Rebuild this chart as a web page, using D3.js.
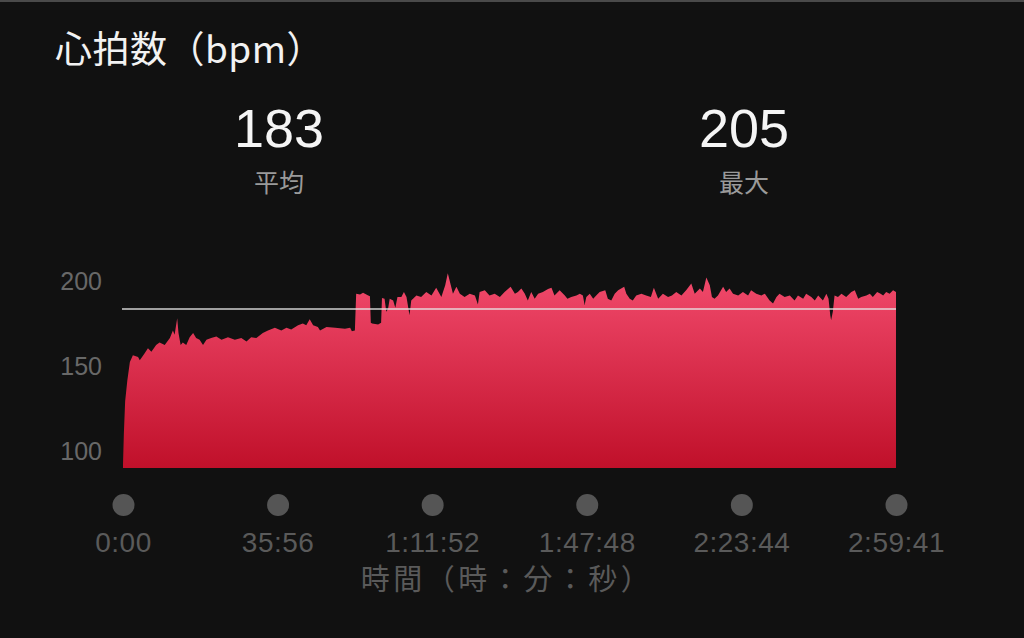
<!DOCTYPE html>
<html><head><meta charset="utf-8">
<script src="https://cdn.jsdelivr.net/npm/d3@7"></script>
<style>
html,body{margin:0;padding:0;background:#111111;}
svg{display:block;}
</style></head>
<body>
<script>
// ---- data (time in minutes, heart rate in bpm) ----
const timeMin = [0,0.2,0.5,1.0,1.6,2.3,3.5,3.9,5.0,5.8,6.6,7.7,8.5,9.7,10.9,11.6,12.0,12.6,12.9,13.4,13.9,14.7,15.5,16.3,17.0,17.8,18.6,19.4,20.5,21.7,22.9,24.4,26.0,27.5,28.7,29.8,31.0,32.5,33.7,35.3,36.8,38.0,39.1,40.7,41.8,42.6,43.4,44.2,45.3,45.8,47.3,49.3,51.6,52.8,53.2,53.9,54.2,55.1,55.8,57.0,57.4,57.6,57.9,59.3,60.0,60.2,60.8,61.2,61.6,62.0,62.8,63.3,63.8,64.7,65.3,65.9,66.6,67.0,68.2,69.3,70.5,71.7,72.8,74.0,74.9,75.5,76.2,76.7,77.5,78.3,79.4,80.6,81.8,82.5,82.9,84.1,85.2,86.4,87.6,88.7,90.1,91.1,91.8,92.6,93.4,94.1,94.9,95.7,96.5,97.6,98.8,99.6,100.3,101.5,102.7,103.3,104.2,105.4,106.2,106.9,107.3,107.7,108.5,109.3,110.0,110.8,112.1,112.7,113.5,114.3,115.1,116.5,117.0,117.8,118.5,119.3,120.5,121.6,122.7,123.4,124.4,125.5,126.7,127.6,128.6,129.8,130.9,132.1,132.9,134.1,134.8,135.6,136.4,136.9,137.5,138.3,139.5,140.2,141.0,141.8,143.0,144.1,145.3,146.0,147.2,148.4,149.2,150.3,151.1,151.9,152.6,153.8,155.0,156.1,156.9,158.1,158.8,160.0,160.8,161.6,162.7,163.5,164.0,164.4,164.6,165.0,165.4,166.2,167.0,168.1,169.3,170.1,170.9,171.6,172.8,173.6,174.3,175.3,176.1,176.7,177.4,178.2,179.0,179.68];
const heartRate = [92,110,129,141,152,156,155,153,157,160,158,162,163.5,162,166,170.5,168,177.6,169,162,163.5,162,166.5,169,166,165,162,165,166,167,165,166.5,165,166,164,166.5,166,169,170.5,172,170.5,172,171,173.5,174.5,173.5,177,173.5,172.5,170.5,172.5,172,171.5,172,170,170.5,192,191.5,192.5,191,190.5,175,174.6,174,175,189.4,189,181.4,183,189,188,183.7,190,190,193,190,179.4,188,191,190,193,191,195.5,190,197,204,197,192,196,192,190,192,191,185.7,193,194,191,192,190,193,196,192,193,195,192,188,193,189,192,193,194.7,195.5,191,194,191,189,190,191,192,191,185.3,190,192,189,191,193,194,189,188,192,194,196,192,189,188,191,192,191,190,195.5,189,192,190,191,193,191,194,198,192,195,193,201.5,197,190,189,191,196,193,195,192,191,193,191,194,192,191,192,188,186.3,190,192,190,191,188,191,189,192,190,188,191,188,192,189,179.4,176.5,181.4,191,190,192,190,193,194,189,190,191,192,190,193,192,191,193,192,194,193];
const yTicks = [100,150,200];
const xTickSeconds = [0,2156,4312,6468,8624,10781];
const xTickLabels = ["0:00","35:56","1:11:52","1:47:48","2:23:44","2:59:41"];
const avgHR = 183;
const maxHR = 205;
const titleText = "心拍数（bpm）";
const avgLabel = "平均";
const maxLabel = "最大";
const xAxisTitle = "時間（時：分：秒）";

const W = 1024, H = 638;
const svg = d3.select("body").append("svg").attr("width", W).attr("height", H);
svg.append("rect").attr("width", W).attr("height", H).attr("fill", "#111111");
svg.append("rect").attr("width", W).attr("height", 2).attr("fill", "#4a4a4a");

const cjk = "'Noto Sans CJK JP', 'Noto Sans', sans-serif";
const lat = "'Liberation Sans', 'Noto Sans', sans-serif";

const x = d3.scaleLinear().domain([0, 10781]).range([123, 896]);
const y = d3.scaleLinear().domain([90, 200]).range([468, 280]);

const data = timeMin.map((t, i) => ({ s: t * 60, v: heartRate[i] }));

// gradient
const defs = svg.append("defs");
const grad = defs.append("linearGradient").attr("id", "g").attr("x1", 0).attr("x2", 0)
  .attr("gradientUnits", "userSpaceOnUse").attr("y1", y(205)).attr("y2", y(90));
grad.append("stop").attr("offset", 0).attr("stop-color", "#f24b6d");
grad.append("stop").attr("offset", 1).attr("stop-color", "#c0102a");

const area = d3.area().x(d => x(d.s)).y0(y(90)).y1(d => y(d.v));
svg.append("path").datum(data).attr("d", area).attr("fill", "url(#g)");

// average line
svg.append("line").attr("x1", x(0) - 1).attr("x2", x(10781)).attr("y1", y(avgHR)).attr("y2", y(avgHR))
  .attr("stroke", "#e6e6e6").attr("stroke-width", 1.6).attr("stroke-opacity", 0.9);

// y axis
const yAxis = d3.axisLeft(y).tickValues(yTicks).tickSize(0).tickPadding(21);
const gy = svg.append("g").attr("transform", "translate(123,0)").call(yAxis);
gy.select(".domain").remove();
gy.selectAll("text").attr("fill", "#686868").attr("font-size", 25).attr("font-family", lat).attr("dy", "0.36em");

// x axis with dots
const xAxis = d3.axisBottom(x).tickValues(xTickSeconds).tickFormat((d, i) => xTickLabels[i]).tickSize(0).tickPadding(0);
const gx = svg.append("g").attr("transform", "translate(0,505)").call(xAxis);
gx.select(".domain").remove();
gx.selectAll(".tick").append("circle").attr("r", 11).attr("fill", "#555555");
gx.selectAll("text").attr("fill", "#5a5a5a").attr("font-size", 28).attr("font-family", lat)
  .attr("letter-spacing", 0.5).attr("y", 37).attr("dy", "0.36em");

// title
svg.append("text").attr("x", 55).attr("y", 63).text(titleText)
  .attr("fill", "#f2f2f2").attr("font-size", 37).attr("letter-spacing", 0.5).attr("font-family", cjk);

// stats
[[279, avgHR, avgLabel], [744, maxHR, maxLabel]].forEach(([cx, val, lab]) => {
  svg.append("text").attr("x", cx).attr("y", 147).attr("text-anchor", "middle").text(val)
    .attr("fill", "#f5f5f5").attr("font-size", 54).attr("font-family", lat);
  svg.append("text").attr("x", cx).attr("y", 192).attr("text-anchor", "middle").text(lab)
    .attr("fill", "#9a9a9a").attr("font-size", 25).attr("font-family", cjk);
});

// x axis title
svg.append("text").attr("x", 507).attr("y", 590).attr("text-anchor", "middle").text(xAxisTitle)
  .attr("fill", "#5a5a5a").attr("font-size", 29).attr("letter-spacing", 3.5).attr("font-family", cjk);
</script>
</body></html>
